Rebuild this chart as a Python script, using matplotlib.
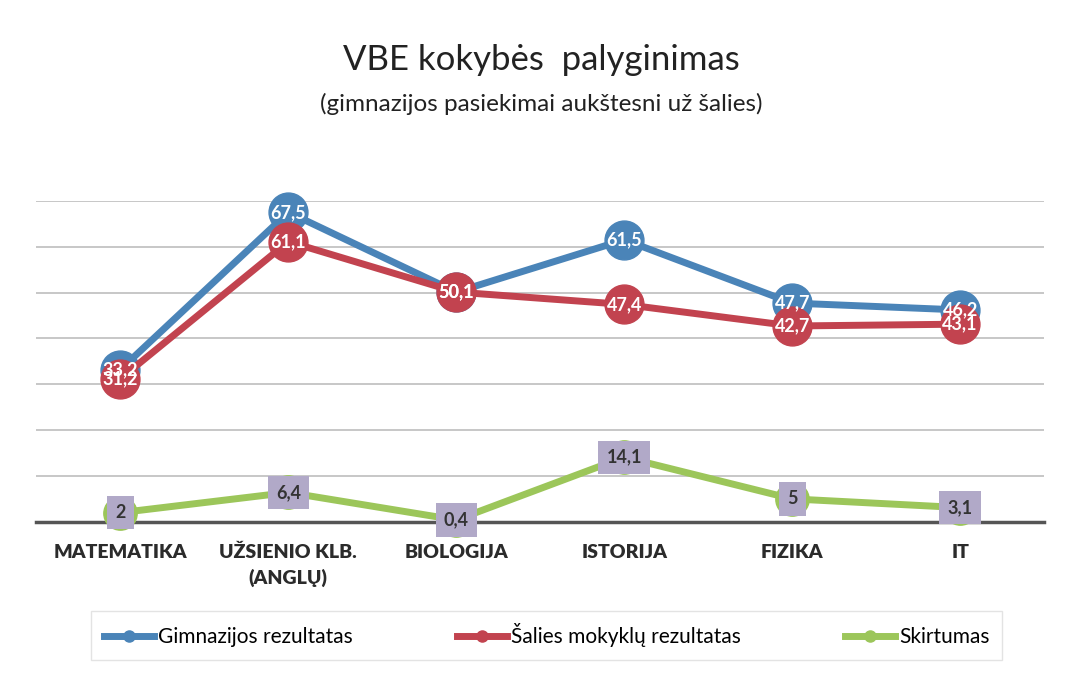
import matplotlib.pyplot as plt

plt.rcParams['font.family'] = ['Lato', 'DejaVu Sans']

# data
categories = ["MATEMATIKA", "UŽSIENIO KLB.\n(ANGLŲ)", "BIOLOGIJA", "ISTORIJA", "FIZIKA", "IT"]
gimnazija = [33.2, 67.5, 50.1, 61.5, 47.7, 46.2]
salies = [31.2, 61.1, 50.1, 47.4, 42.7, 43.1]
skirtumas = [2, 6.4, 0.4, 14.1, 5, 3.1]

blue = "#4a84b8"
red = "#c2434f"
green = "#9cc65a"
lavender = "#b1a9c8"

fig = plt.figure(figsize=(10.72, 6.83), dpi=100)
ax = fig.add_axes([0.034, 0.236, 0.940, 0.47])

x = list(range(len(categories)))

def fmt(v):
    return f"{v:g}".replace(".", ",")

ax.plot(x, gimnazija, color=blue, lw=5, marker="o", ms=28, mfc=blue, mec=blue,
        label="Gimnazijos rezultatas", zorder=3)
ax.plot(x, salies, color=red, lw=5, marker="o", ms=28, mfc=red, mec=red,
        label="Šalies mokyklų rezultatas", zorder=4)
ax.plot(x, skirtumas, color=green, lw=5, marker="o", ms=24, mfc=green, mec=green,
        label="Skirtumas", zorder=5)

for xi, v in zip(x, gimnazija):
    ax.text(xi, v, fmt(v), color="white", fontsize=13, fontweight="bold",
            ha="center", va="center", zorder=6)
for xi, v in zip(x, salies):
    ax.text(xi, v, fmt(v), color="white", fontsize=13, fontweight="bold",
            ha="center", va="center", zorder=7)
for xi, v in zip(x, skirtumas):
    ax.text(xi, v, fmt(v), color="#333333", fontsize=13, fontweight="bold",
            ha="center", va="center", zorder=8,
            bbox=dict(boxstyle="square,pad=0.45", fc=lavender, ec="none"))

ax.set_xlim(-0.5, len(categories) - 0.5)
ax.set_ylim(0, 70)
ax.set_yticks(range(0, 71, 10))
ax.yaxis.grid(True, color="#bdbdbd", lw=1.2)
ax.set_axisbelow(True)
ax.tick_params(axis="y", left=False, labelleft=False)
ax.tick_params(axis="x", length=0, pad=16)
ax.set_xticks(x)
ax.set_xticklabels(categories, fontsize=14, fontweight="heavy", color="#2b2b2b",
                   linespacing=1.5)
for s in ["top", "right", "left"]:
    ax.spines[s].set_visible(False)
ax.spines["bottom"].set_color("#555555")
ax.spines["bottom"].set_linewidth(2.5)
for line in ax.lines:
    line.set_clip_on(False)

fig.text(0.505, 0.912, "VBE kokybės  palyginimas", ha="center", va="center",
         fontsize=25, color="#222222")
fig.text(0.505, 0.848, "(gimnazijos pasiekimai aukštesni už šalies)", ha="center",
         va="center", fontsize=17.5, color="#222222")

leg = fig.legend(loc="center", bbox_to_anchor=(0.51, 0.07), ncol=3, fontsize=15,
                 frameon=True, fancybox=False, edgecolor="#dddddd",
                 handlelength=2.4, handletextpad=0.2, columnspacing=5.0,
                 borderpad=0.6, borderaxespad=0)
for h in leg.legend_handles:
    h.set_markersize(8)

fig.savefig("out.png", dpi=100)
